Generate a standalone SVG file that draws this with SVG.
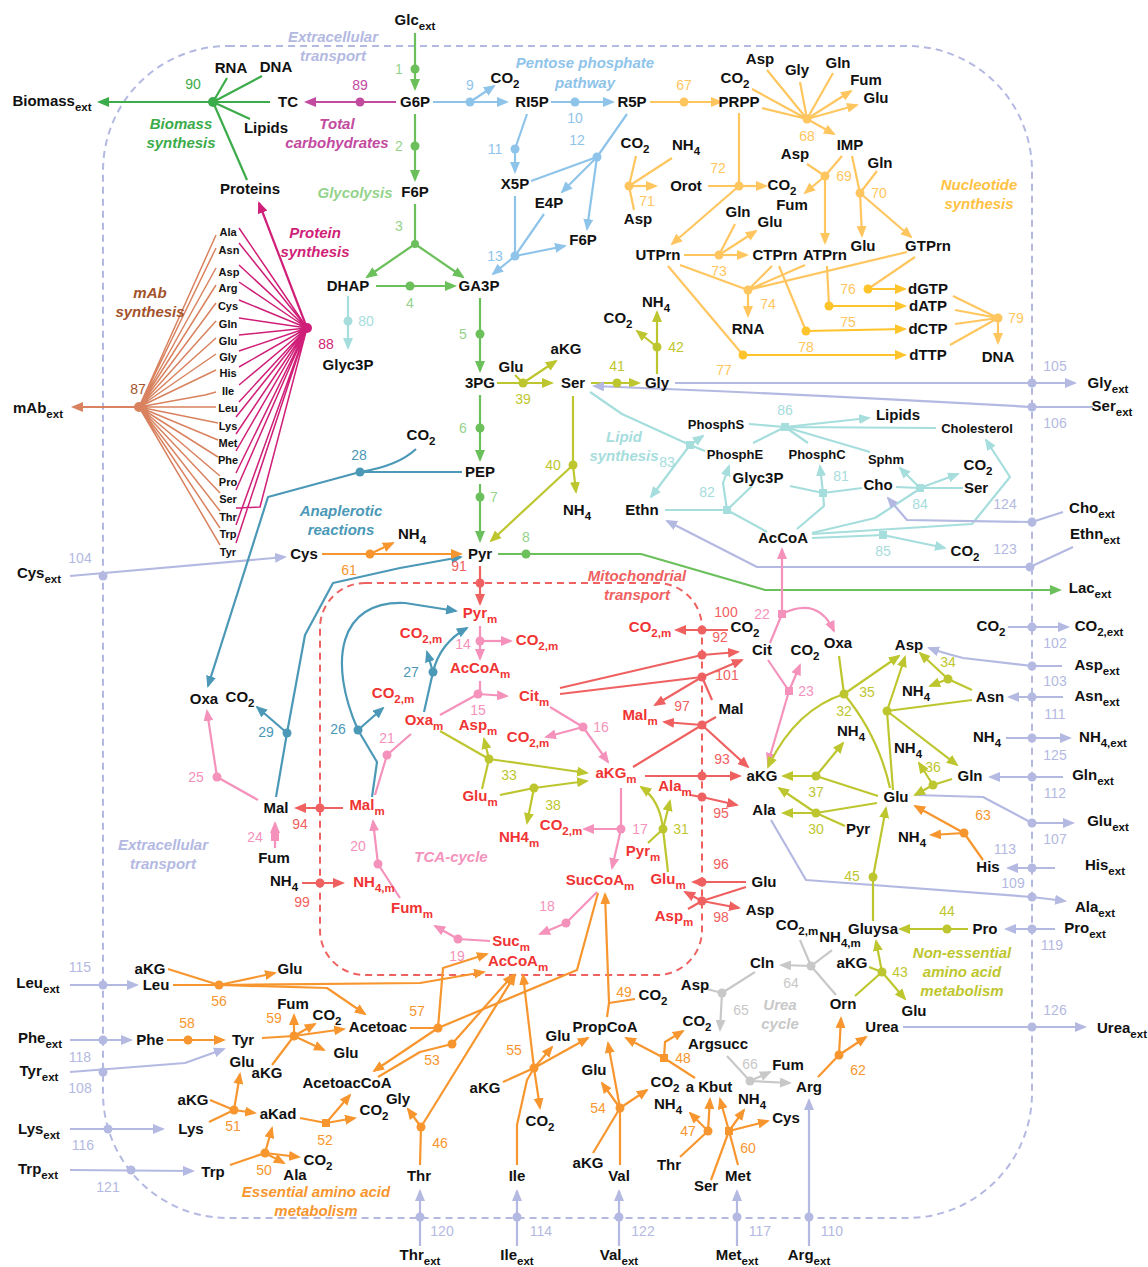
<svg xmlns="http://www.w3.org/2000/svg" width="1148" height="1267" viewBox="0 0 1148 1267">
<style>
text{font-family:"Liberation Sans",Arial,sans-serif;text-anchor:middle}
.t{font-size:15px;font-weight:bold;fill:#111}
.r{font-size:15px;font-weight:bold;fill:#f03434}
.aa{font-size:11px;font-weight:bold;fill:#111}
.sm{font-size:13px;font-weight:bold;fill:#111}
.s{font-size:11.5px}
.n{font-size:14px}
.lb{font-size:15px;font-weight:bold;font-style:italic}
path{fill:none;stroke-width:2.2;stroke-linejoin:round}
.thin{stroke-width:1.5}
.gl{stroke:#6cc05c}.bm{stroke:#3cab4a}.tc{stroke:#c24a9f}.ps{stroke:#cf1f78}.ma{stroke:#d9825f}.pp{stroke:#8fc4ea}.nu{stroke:#ffc660}.nd{stroke:#ffc42b}.li{stroke:#a6dddd}.an{stroke:#4b98b7}.mt{stroke:#ef6161}.tca{stroke:#f492bb}.ne{stroke:#bec62f}.ea{stroke:#f7962f}.ur{stroke:#c8c8c8}.tr{stroke:#b4b9e2}
.fgl{fill:#6cc05c}.fbm{fill:#3cab4a}.ftc{fill:#c24a9f}.fps{fill:#cf1f78}.fma{fill:#d9825f}.fpp{fill:#8fc4ea}.fnu{fill:#ffc660}.fnd{fill:#ffc42b}.fli{fill:#a6dddd}.fan{fill:#4b98b7}.fmt{fill:#ef6161}.ftca{fill:#f492bb}.fne{fill:#bec62f}.fea{fill:#f7962f}.fur{fill:#c8c8c8}.ftr{fill:#b4b9e2}
.cgl{fill:#94d38b}.cma{fill:#a3522b}
</style>
<defs>
<marker id="aGL" viewBox="0 0 12 10" refX="10" refY="5" markerWidth="12" markerHeight="10" markerUnits="userSpaceOnUse" orient="auto"><polygon points="0,0 12,5 0,10" fill="#6cc05c"/></marker>
<marker id="aBM" viewBox="0 0 12 10" refX="10" refY="5" markerWidth="12" markerHeight="10" markerUnits="userSpaceOnUse" orient="auto"><polygon points="0,0 12,5 0,10" fill="#3cab4a"/></marker>
<marker id="aTC" viewBox="0 0 12 10" refX="10" refY="5" markerWidth="12" markerHeight="10" markerUnits="userSpaceOnUse" orient="auto"><polygon points="0,0 12,5 0,10" fill="#c24a9f"/></marker>
<marker id="aPS" viewBox="0 0 12 10" refX="10" refY="5" markerWidth="12" markerHeight="10" markerUnits="userSpaceOnUse" orient="auto"><polygon points="0,0 12,5 0,10" fill="#cf1f78"/></marker>
<marker id="aMA" viewBox="0 0 12 10" refX="10" refY="5" markerWidth="12" markerHeight="10" markerUnits="userSpaceOnUse" orient="auto"><polygon points="0,0 12,5 0,10" fill="#d9825f"/></marker>
<marker id="aPP" viewBox="0 0 12 10" refX="10" refY="5" markerWidth="12" markerHeight="10" markerUnits="userSpaceOnUse" orient="auto"><polygon points="0,0 12,5 0,10" fill="#8fc4ea"/></marker>
<marker id="aNU" viewBox="0 0 12 10" refX="10" refY="5" markerWidth="12" markerHeight="10" markerUnits="userSpaceOnUse" orient="auto"><polygon points="0,0 12,5 0,10" fill="#ffc660"/></marker>
<marker id="aND" viewBox="0 0 12 10" refX="10" refY="5" markerWidth="12" markerHeight="10" markerUnits="userSpaceOnUse" orient="auto"><polygon points="0,0 12,5 0,10" fill="#ffc42b"/></marker>
<marker id="aLI" viewBox="0 0 12 10" refX="10" refY="5" markerWidth="12" markerHeight="10" markerUnits="userSpaceOnUse" orient="auto"><polygon points="0,0 12,5 0,10" fill="#a6dddd"/></marker>
<marker id="aAN" viewBox="0 0 12 10" refX="10" refY="5" markerWidth="12" markerHeight="10" markerUnits="userSpaceOnUse" orient="auto"><polygon points="0,0 12,5 0,10" fill="#4b98b7"/></marker>
<marker id="aMT" viewBox="0 0 12 10" refX="10" refY="5" markerWidth="12" markerHeight="10" markerUnits="userSpaceOnUse" orient="auto"><polygon points="0,0 12,5 0,10" fill="#ef6161"/></marker>
<marker id="aTCA" viewBox="0 0 12 10" refX="10" refY="5" markerWidth="12" markerHeight="10" markerUnits="userSpaceOnUse" orient="auto"><polygon points="0,0 12,5 0,10" fill="#f492bb"/></marker>
<marker id="aNE" viewBox="0 0 12 10" refX="10" refY="5" markerWidth="12" markerHeight="10" markerUnits="userSpaceOnUse" orient="auto"><polygon points="0,0 12,5 0,10" fill="#bec62f"/></marker>
<marker id="aEA" viewBox="0 0 12 10" refX="10" refY="5" markerWidth="12" markerHeight="10" markerUnits="userSpaceOnUse" orient="auto"><polygon points="0,0 12,5 0,10" fill="#f7962f"/></marker>
<marker id="aUR" viewBox="0 0 12 10" refX="10" refY="5" markerWidth="12" markerHeight="10" markerUnits="userSpaceOnUse" orient="auto"><polygon points="0,0 12,5 0,10" fill="#c8c8c8"/></marker>
<marker id="aTR" viewBox="0 0 12 10" refX="10" refY="5" markerWidth="12" markerHeight="10" markerUnits="userSpaceOnUse" orient="auto"><polygon points="0,0 12,5 0,10" fill="#b4b9e2"/></marker>
</defs>
<rect width="1148" height="1267" fill="#fff"/>
<g id="compartments">
<rect x="103" y="46" width="929" height="1172" rx="125" fill="none" stroke="#b4b9e2" stroke-width="2" stroke-dasharray="7,5"/>
<rect x="320" y="583" width="382" height="392" rx="45" fill="none" stroke="#ef6161" stroke-width="2" stroke-dasharray="7,5"/>
</g>
<g id="connectors">
<path class="gl" d="M415,33V89" marker-end="url(#aGL)"/>
<path class="gl" d="M415,114V180" marker-end="url(#aGL)"/>
<path class="gl" d="M415,204V244"/>
<path class="gl" d="M415,244L367,277" marker-end="url(#aGL)"/>
<path class="gl" d="M415,244L463,277" marker-end="url(#aGL)"/>
<path class="gl" d="M376,286H455" marker-end="url(#aGL)"/>
<path class="gl" d="M480,298V371" marker-end="url(#aGL)"/>
<path class="gl" d="M480,395V460" marker-end="url(#aGL)"/>
<path class="gl" d="M480,484V541" marker-end="url(#aGL)"/>
<path class="gl" d="M498,554H641L765,590H1060" marker-end="url(#aGL)"/>
<path class="bm" d="M270,102H99" marker-end="url(#aBM)"/>
<path class="bm" d="M213,102L227,78M213,102L262,76M213,102L250,119M213,102L247,180"/>
<path class="tc" d="M396,102H306" marker-end="url(#aTC)"/>
<path class="ps" d="M307,328L259,203" marker-end="url(#aPS)"/>
<path class="ps thin" d="M307,328L239,228M307,328L239,243M307,328L239,265M307,328L239,282M307,328L239,300M307,328L239,318M307,328L239,335M307,328L239,351M307,328L239,367M307,328L239,385M307,328L239,402M307,328L236,417M307,328L236,434M307,328L236,451M307,328L236,473M307,328L236,490M307,328L260,507L236,508M307,328L236,525M307,328L236,543"/>
<path class="ma" d="M139,407H73" marker-end="url(#aMA)"/>
<path class="ma thin" d="M139,407L216,235M139,407L216,248M139,407L216,268M139,407L216,285M139,407L216,303M139,407L216,321M139,407L216,338M139,407L216,354M139,407L216,370M139,407L205,395L216,392M139,407L216,407M139,407L218,423M139,407L218,440M139,407L218,457M139,407L220,476M139,407L220,493M139,407L220,511M139,407L220,528M139,407L220,545"/>
<path class="pp" d="M433,102H507" marker-end="url(#aPP)"/>
<path class="pp" d="M470,102L494,86" marker-end="url(#aPP)"/>
<path class="pp" d="M551,102H613" marker-end="url(#aPP)"/>
<path class="pp" d="M527,114L515,149V172" marker-end="url(#aPP)"/>
<path class="pp" d="M627,114L597,157L531,181"/>
<path class="pp" d="M597,157L562,192" marker-end="url(#aPP)"/>
<path class="pp" d="M597,157L587,229" marker-end="url(#aPP)"/>
<path class="pp" d="M515,196V256M544,214L515,256"/>
<path class="pp" d="M515,256L565,246" marker-end="url(#aPP)"/>
<path class="pp" d="M515,256L493,274" marker-end="url(#aPP)"/>
<path class="nu" d="M650,102H721" marker-end="url(#aNU)"/>
<path class="nu" d="M767,70L807,119M752,89L807,119M800,82L807,119M833,73L807,119M762,108L807,119"/>
<path class="nu" d="M807,119L851,91" marker-end="url(#aNU)"/>
<path class="nu" d="M807,119L857,105" marker-end="url(#aNU)"/>
<path class="nu" d="M807,119L834,134" marker-end="url(#aNU)"/>
<path class="nu" d="M842,156L825,176M807,164L825,176"/>
<path class="nu" d="M825,176L805,193" marker-end="url(#aNU)"/>
<path class="nu" d="M825,176V243" marker-end="url(#aNU)"/>
<path class="nu" d="M852,156L860,193M877,171L860,193"/>
<path class="nu" d="M860,193L862,236" marker-end="url(#aNU)"/>
<path class="nu" d="M860,193L911,237" marker-end="url(#aNU)"/>
<path class="nu" d="M636,156L629,186M672,158L629,186M634,210L629,186"/>
<path class="nu" d="M629,186H656" marker-end="url(#aNU)"/>
<path class="nu" d="M708,186H739M739,113V186"/>
<path class="nu" d="M739,186H766" marker-end="url(#aNU)"/>
<path class="nu" d="M739,186L672,244" marker-end="url(#aNU)"/>
<path class="nu" d="M684,255H719M735,224L719,255"/>
<path class="nu" d="M719,255L756,231" marker-end="url(#aNU)"/>
<path class="nu" d="M719,255H747" marker-end="url(#aNU)"/>
<path class="nu" d="M680,265L748,290M772,266L748,290M805,265L748,290M907,252L748,290"/>
<path class="nu" d="M748,290V316" marker-end="url(#aNU)"/>
<path class="nu" d="M668,266L743,355"/>
<path class="nd" d="M743,355H905" marker-end="url(#aND)"/>
<path class="nu" d="M779,266L806,331"/>
<path class="nd" d="M806,331L905,329" marker-end="url(#aND)"/>
<path class="nu" d="M827,266L829,306"/>
<path class="nd" d="M829,306H905" marker-end="url(#aND)"/>
<path class="nu" d="M915,257L868,289"/>
<path class="nd" d="M868,289H905" marker-end="url(#aND)"/>
<path class="nu" d="M953,296L998,318M955,310L998,318M955,324L998,318M950,345L998,318"/>
<path class="nu" d="M998,318V343" marker-end="url(#aNU)"/>
<path class="ne" d="M497,383H552" marker-end="url(#aNE)"/>
<path class="ne" d="M515,375L523,383"/>
<path class="ne" d="M523,383L556,361" marker-end="url(#aNE)"/>
<path class="ne" d="M591,383H639" marker-end="url(#aNE)"/>
<path class="ne" d="M657,374V347"/>
<path class="ne" d="M657,347V312" marker-end="url(#aNE)"/>
<path class="ne" d="M657,347L637,331" marker-end="url(#aNE)"/>
<path class="ne" d="M573,396V465"/>
<path class="ne" d="M573,465L576,492" marker-end="url(#aNE)"/>
<path class="ne" d="M573,465L491,541" marker-end="url(#aNE)"/>
<path class="li" d="M590,392L622,414L690,445M705,451L690,445"/>
<path class="li" d="M690,445L703,436" marker-end="url(#aLI)"/>
<path class="li" d="M690,445L651,497" marker-end="url(#aLI)"/>
<path class="li" d="M665,510H727M752,486L727,510M767,532L727,510"/>
<path class="li" d="M727,510L723,483L729,466" marker-end="url(#aLI)"/>
<path class="li" d="M790,486L823,493M862,488L823,493M797,529L824,506L823,493"/>
<path class="li" d="M823,493L820,466" marker-end="url(#aLI)"/>
<path class="li" d="M896,487L920,488M812,533L875,518L918,490M920,488H963"/>
<path class="li" d="M920,488L900,468" marker-end="url(#aLI)"/>
<path class="li" d="M920,488L958,474" marker-end="url(#aLI)"/>
<path class="li" d="M812,538L883,535"/>
<path class="li" d="M883,535L945,548" marker-end="url(#aLI)"/>
<path class="li" d="M812,534L972,524L1010,477L986,440" marker-end="url(#aLI)"/>
<path class="li" d="M749,424L785,427M753,443L785,427M808,443L785,427M870,452L785,427M936,428L785,427"/>
<path class="li" d="M785,427L869,418" marker-end="url(#aLI)"/>
<path class="tr" d="M675,383H1075" marker-end="url(#aTR)"/>
<path class="tr" d="M1093,407H1032Q800,394 594,386" marker-end="url(#aTR)"/>
<path class="tr" d="M1063,512L1032,522L907,520L888,498" marker-end="url(#aTR)"/>
<path class="tr" d="M1073,547L1030,567H757L667,521" marker-end="url(#aTR)"/>
<path class="tr" d="M1008,627H1068" marker-end="url(#aTR)"/>
<path class="tr" d="M1062,666H1032L963,658Q940,652 929,648" marker-end="url(#aTR)"/>
<path class="tr" d="M1063,697H1009" marker-end="url(#aTR)"/>
<path class="tr" d="M1006,738H1070" marker-end="url(#aTR)"/>
<path class="tr" d="M1063,777H990" marker-end="url(#aTR)"/>
<path class="tr" d="M915,795L983,797L1032,823H1073" marker-end="url(#aTR)"/>
<path class="tr" d="M1055,868H1008" marker-end="url(#aTR)"/>
<path class="tr" d="M771,820L806,880L1032,897L1065,901" marker-end="url(#aTR)"/>
<path class="tr" d="M1055,929H1006" marker-end="url(#aTR)"/>
<path class="tr" d="M903,1027H1085" marker-end="url(#aTR)"/>
<path class="tr" d="M70,576L285,557" marker-end="url(#aTR)"/>
<path class="tr" d="M70,985H137" marker-end="url(#aTR)"/>
<path class="tr" d="M70,1040H131" marker-end="url(#aTR)"/>
<path class="tr" d="M70,1072L185,1063L224,1049" marker-end="url(#aTR)"/>
<path class="tr" d="M70,1129H163" marker-end="url(#aTR)"/>
<path class="tr" d="M70,1170L193,1171" marker-end="url(#aTR)"/>
<path class="tr" d="M420,1246V1191" marker-end="url(#aTR)"/>
<path class="tr" d="M517,1246V1191" marker-end="url(#aTR)"/>
<path class="tr" d="M619,1246V1191" marker-end="url(#aTR)"/>
<path class="tr" d="M737,1246V1191" marker-end="url(#aTR)"/>
<path class="tr" d="M809,1246V1100" marker-end="url(#aTR)"/>
<path class="an" d="M462,472H360L268,497L208,686" marker-end="url(#aAN)"/>
<path class="an" d="M360,472Q398,466 416,449"/>
<path class="an" d="M276,797L287,733L305,635L333,583L400,568L461,557" marker-end="url(#aAN)"/>
<path class="an" d="M287,733L257,707" marker-end="url(#aAN)"/>
<path class="an" d="M372,797L377,762L358,730C328,662 338,600 405,603L456,611" marker-end="url(#aAN)"/>
<path class="an" d="M358,730L383,708" marker-end="url(#aAN)"/>
<path class="an" d="M424,712L433,672Q440,643 467,628" marker-end="url(#aAN)"/>
<path class="an" d="M433,672L427,652" marker-end="url(#aAN)"/>
<path class="mt" d="M480,566V604" marker-end="url(#aMT)"/>
<path class="mt" d="M728,630H676" marker-end="url(#aMT)"/>
<path class="mt" d="M560,688L702,655L738,652" marker-end="url(#aMT)"/>
<path class="mt" d="M560,694L702,677L742,660" marker-end="url(#aMT)"/>
<path class="mt" d="M712,700L702,677"/>
<path class="mt" d="M702,677L655,705" marker-end="url(#aMT)"/>
<path class="mt" d="M633,767L702,725M716,717L702,725"/>
<path class="mt" d="M702,725L664,722" marker-end="url(#aMT)"/>
<path class="mt" d="M702,725L748,767" marker-end="url(#aMT)"/>
<path class="mt" d="M645,776H740" marker-end="url(#aMT)"/>
<path class="mt" d="M690,795L702,797L737,805" marker-end="url(#aMT)"/>
<path class="mt" d="M343,808H296" marker-end="url(#aMT)"/>
<path class="mt" d="M302,883H343" marker-end="url(#aMT)"/>
<path class="mt" d="M746,882H693" marker-end="url(#aMT)"/>
<path class="mt" d="M746,887L702,901L685,892" marker-end="url(#aMT)"/>
<path class="mt" d="M688,909L702,901"/>
<path class="mt" d="M702,901L739,908" marker-end="url(#aMT)"/>
<path class="tca" d="M480,626V659" marker-end="url(#aTCA)"/>
<path class="tca" d="M480,641H511" marker-end="url(#aTCA)"/>
<path class="tca" d="M480,681V694M440,715L478,694"/>
<path class="tca" d="M478,694L507,696" marker-end="url(#aTCA)"/>
<path class="tca" d="M550,707L583,727"/>
<path class="tca" d="M583,727L546,737" marker-end="url(#aTCA)"/>
<path class="tca" d="M583,727L608,762" marker-end="url(#aTCA)"/>
<path class="tca" d="M621,788V829"/>
<path class="tca" d="M621,829H584" marker-end="url(#aTCA)"/>
<path class="tca" d="M621,829L612,868" marker-end="url(#aTCA)"/>
<path class="tca" d="M597,892L566,923L540,934" marker-end="url(#aTCA)"/>
<path class="tca" d="M490,941L458,939L435,926" marker-end="url(#aTCA)"/>
<path class="tca" d="M400,898L378,864L373,821" marker-end="url(#aTCA)"/>
<path class="tca" d="M375,795L387,755L411,734"/>
<path class="tca" d="M770,643L782,614"/>
<path class="tca" d="M782,614V549" marker-end="url(#aTCA)"/>
<path class="tca" d="M782,614Q818,596 834,631" marker-end="url(#aTCA)"/>
<path class="tca" d="M768,660L789,691"/>
<path class="tca" d="M789,691L800,665" marker-end="url(#aTCA)"/>
<path class="tca" d="M789,691L768,763" marker-end="url(#aTCA)"/>
<path class="tca" d="M275,848V823" marker-end="url(#aTCA)"/>
<path class="tca" d="M258,800L217,777L207,711" marker-end="url(#aTCA)"/>
<path class="ne" d="M440,731L489,759M482,789L489,759"/>
<path class="ne" d="M489,759L484,739" marker-end="url(#aNE)"/>
<path class="ne" d="M489,759L587,773" marker-end="url(#aNE)"/>
<path class="ne" d="M500,795L534,788"/>
<path class="ne" d="M534,788L587,781" marker-end="url(#aNE)"/>
<path class="ne" d="M534,788L527,823" marker-end="url(#aNE)"/>
<path class="ne" d="M648,843L663,829M668,872L663,829"/>
<path class="ne" d="M663,829L670,801" marker-end="url(#aNE)"/>
<path class="ne" d="M663,829Q660,800 641,787" marker-end="url(#aNE)"/>
<path class="ne" d="M839,656L844,694M844,694Q878,735 890,788"/>
<path class="ne" d="M844,694Q795,710 768,767" marker-end="url(#aNE)"/>
<path class="ne" d="M844,694L899,656" marker-end="url(#aNE)"/>
<path class="ne" d="M972,700L887,711L893,790"/>
<path class="ne" d="M887,711L905,657" marker-end="url(#aNE)"/>
<path class="ne" d="M887,711L957,765" marker-end="url(#aNE)"/>
<path class="ne" d="M972,690L948,679"/>
<path class="ne" d="M948,679L920,653" marker-end="url(#aNE)"/>
<path class="ne" d="M948,679L930,686" marker-end="url(#aNE)"/>
<path class="ne" d="M952,779L933,785"/>
<path class="ne" d="M933,785L915,795" marker-end="url(#aNE)"/>
<path class="ne" d="M933,785L919,763" marker-end="url(#aNE)"/>
<path class="ne" d="M878,796L816,776"/>
<path class="ne" d="M816,776H783" marker-end="url(#aNE)"/>
<path class="ne" d="M816,776L843,743" marker-end="url(#aNE)"/>
<path class="ne" d="M877,803L816,813M845,826L816,813"/>
<path class="ne" d="M816,813H783" marker-end="url(#aNE)"/>
<path class="ne" d="M816,813L779,788" marker-end="url(#aNE)"/>
<path class="ne" d="M873,921V877L886,808" marker-end="url(#aNE)"/>
<path class="ne" d="M968,929H900" marker-end="url(#aNE)"/>
<path class="ne" d="M869,967L882,972M855,996L882,972"/>
<path class="ne" d="M882,972L876,941" marker-end="url(#aNE)"/>
<path class="ne" d="M882,972L905,999" marker-end="url(#aNE)"/>
<path class="ea" d="M983,860L964,833"/>
<path class="ea" d="M964,833L915,806" marker-end="url(#aEA)"/>
<path class="ea" d="M964,833L931,835" marker-end="url(#aEA)"/>
<path class="ea" d="M322,554H461" marker-end="url(#aEA)"/>
<path class="ea" d="M370,554L393,543" marker-end="url(#aEA)"/>
<path class="ea" d="M168,969L219,985M173,985H219"/>
<path class="ea" d="M219,985L275,973" marker-end="url(#aEA)"/>
<path class="ea" d="M219,985L327,988L365,1014" marker-end="url(#aEA)"/>
<path class="ea" d="M219,985L420,983L484,972" marker-end="url(#aEA)"/>
<path class="ea" d="M410,1028H438L577,970L598,893"/>
<path class="ea" d="M438,1028L443,968L487,954" marker-end="url(#aEA)"/>
<path class="ea" d="M438,1028L374,1071" marker-end="url(#aEA)"/>
<path class="ea" d="M378,1077L420,1052L452,1044"/>
<path class="ea" d="M452,1044L513,975" marker-end="url(#aEA)"/>
<path class="ea" d="M420,1165L421,1127"/>
<path class="ea" d="M421,1127L408,1109" marker-end="url(#aEA)"/>
<path class="ea" d="M421,1127L515,975" marker-end="url(#aEA)"/>
<path class="ea" d="M517,1165V1125L527,1080L534,1068M503,1082L534,1068"/>
<path class="ea" d="M534,1068L552,1047" marker-end="url(#aEA)"/>
<path class="ea" d="M534,1068L588,1038" marker-end="url(#aEA)"/>
<path class="ea" d="M534,1068L540,1108" marker-end="url(#aEA)"/>
<path class="ea" d="M534,1068L523,975" marker-end="url(#aEA)"/>
<path class="ea" d="M607,1017L609,1003L605,894" marker-end="url(#aEA)"/>
<path class="ea" d="M609,1003L635,999"/>
<path class="ea" d="M620,1165V1108M593,1153L620,1108"/>
<path class="ea" d="M620,1108L602,1083" marker-end="url(#aEA)"/>
<path class="ea" d="M620,1108L608,1043" marker-end="url(#aEA)"/>
<path class="ea" d="M620,1108L647,1090" marker-end="url(#aEA)"/>
<path class="ea" d="M695,1078L664,1058"/>
<path class="ea" d="M664,1058L626,1038" marker-end="url(#aEA)"/>
<path class="ea" d="M664,1058L665,1042L683,1031" marker-end="url(#aEA)"/>
<path class="ea" d="M680,1157L708,1131"/>
<path class="ea" d="M708,1131L710,1099" marker-end="url(#aEA)"/>
<path class="ea" d="M708,1131L690,1113" marker-end="url(#aEA)"/>
<path class="ea" d="M738,1165L729,1131M711,1180L729,1131"/>
<path class="ea" d="M729,1131L720,1099" marker-end="url(#aEA)"/>
<path class="ea" d="M729,1131L744,1110" marker-end="url(#aEA)"/>
<path class="ea" d="M729,1131L768,1121" marker-end="url(#aEA)"/>
<path class="ea" d="M818,1077L839,1055"/>
<path class="ea" d="M839,1055L841,1018" marker-end="url(#aEA)"/>
<path class="ea" d="M839,1055L866,1037" marker-end="url(#aEA)"/>
<path class="ea" d="M167,1040H224" marker-end="url(#aEA)"/>
<path class="ea" d="M262,1038L294,1036M272,1065L294,1036"/>
<path class="ea" d="M294,1036V1015" marker-end="url(#aEA)"/>
<path class="ea" d="M294,1036L315,1024" marker-end="url(#aEA)"/>
<path class="ea" d="M294,1036L344,1029" marker-end="url(#aEA)"/>
<path class="ea" d="M294,1036L324,1050" marker-end="url(#aEA)"/>
<path class="ea" d="M210,1100L234,1110M209,1122L234,1110"/>
<path class="ea" d="M234,1110L255,1113" marker-end="url(#aEA)"/>
<path class="ea" d="M234,1110L240,1074" marker-end="url(#aEA)"/>
<path class="ea" d="M300,1118L326,1123"/>
<path class="ea" d="M326,1123L350,1095" marker-end="url(#aEA)"/>
<path class="ea" d="M326,1123L355,1118" marker-end="url(#aEA)"/>
<path class="ea" d="M230,1165L265,1153"/>
<path class="ea" d="M265,1153L272,1128" marker-end="url(#aEA)"/>
<path class="ea" d="M265,1153L299,1157" marker-end="url(#aEA)"/>
<path class="ea" d="M265,1153L284,1163" marker-end="url(#aEA)"/>
<path class="ur" d="M800,940L811,966M832,950L811,966M836,995L811,966"/>
<path class="ur" d="M811,966L781,965" marker-end="url(#aUR)"/>
<path class="ur" d="M755,972L722,993M703,988L722,993"/>
<path class="ur" d="M722,993L720,1030" marker-end="url(#aUR)"/>
<path class="ur" d="M727,1056L750,1081"/>
<path class="ur" d="M750,1081L770,1072" marker-end="url(#aUR)"/>
<path class="ur" d="M750,1081L790,1083" marker-end="url(#aUR)"/>
</g>
<g id="reactions">
<g id="r1"><circle class="fgl" cx="415" cy="69" r="4.5"/><text class="n cgl" x="399" y="74">1</text></g>
<g id="r2"><circle class="fgl" cx="415" cy="146" r="4.5"/><text class="n cgl" x="399" y="151">2</text></g>
<g id="r3"><circle class="fgl" cx="415" cy="244" r="4"/><text class="n cgl" x="399" y="231">3</text></g>
<g id="r4"><circle class="fgl" cx="410" cy="286" r="4.5"/><text class="n cgl" x="410" y="308">4</text></g>
<g id="r5"><circle class="fgl" cx="480" cy="334" r="4.5"/><text class="n cgl" x="463" y="339">5</text></g>
<g id="r6"><circle class="fgl" cx="480" cy="428" r="4.5"/><text class="n cgl" x="463" y="433">6</text></g>
<g id="r7"><circle class="fgl" cx="480" cy="497" r="4.5"/><text class="n cgl" x="494" y="502">7</text></g>
<g id="r8"><circle class="fgl" cx="526" cy="554" r="4.5"/><text class="n cgl" x="526" y="542">8</text></g>
<g id="r9"><circle class="fpp" cx="470" cy="102" r="4.5"/><text class="n fpp" x="470" y="90">9</text></g>
<g id="r10"><circle class="fpp" cx="575" cy="102" r="4.5"/><text class="n fpp" x="575" y="123">10</text></g>
<g id="r11"><circle class="fpp" cx="515" cy="149" r="4.5"/><text class="n fpp" x="495" y="154">11</text></g>
<g id="r12"><circle class="fpp" cx="597" cy="157" r="4.5"/><text class="n fpp" x="577" y="145">12</text></g>
<g id="r13"><circle class="fpp" cx="515" cy="256" r="4.5"/><text class="n fpp" x="495" y="261">13</text></g>
<g id="r67"><circle class="fnu" cx="684" cy="102" r="4.5"/><text class="n fnu" x="684" y="90">67</text></g>
<g id="r68"><circle class="fnu" cx="807" cy="119" r="4.5"/><text class="n fnu" x="807" y="141">68</text></g>
<g id="r69"><circle class="fnu" cx="825" cy="176" r="4.5"/><text class="n fnu" x="844" y="181">69</text></g>
<g id="r70"><circle class="fnu" cx="860" cy="193" r="4.5"/><text class="n fnu" x="879" y="198">70</text></g>
<g id="r71"><circle class="fnu" cx="629" cy="186" r="4.5"/><text class="n fnu" x="647" y="206">71</text></g>
<g id="r72"><circle class="fnu" cx="739" cy="186" r="4.5"/><text class="n fnu" x="718" y="173">72</text></g>
<g id="r73"><circle class="fnu" cx="719" cy="255" r="4.5"/><text class="n fnu" x="719" y="276">73</text></g>
<g id="r74"><circle class="fnu" cx="748" cy="290" r="4.5"/><text class="n fnu" x="768" y="309">74</text></g>
<g id="r75"><circle class="fnd" cx="829" cy="306" r="4.5"/><text class="n fnu" x="848" y="327">75</text></g>
<g id="r76"><circle class="fnd" cx="868" cy="289" r="4.5"/><text class="n fnu" x="848" y="294">76</text></g>
<g id="r77"><circle class="fnd" cx="743" cy="355" r="4.5"/><text class="n fnu" x="724" y="375">77</text></g>
<g id="r78"><circle class="fnd" cx="806" cy="331" r="4.5"/><text class="n fnu" x="806" y="352">78</text></g>
<g id="r79"><circle class="fnu" cx="998" cy="318" r="4.5"/><text class="n fnu" x="1016" y="323">79</text></g>
<g id="r89"><circle class="ftc" cx="360" cy="102" r="4.5"/><text class="n ftc" x="360" y="90">89</text></g>
<g id="r90"><circle class="fbm" cx="213" cy="102" r="5"/><text class="n fbm" x="193" y="89">90</text></g>
<g id="r88"><circle class="fps" cx="307" cy="328" r="5"/><text class="n fps" x="326" y="349">88</text></g>
<g id="r87"><circle class="fma" cx="139" cy="407" r="5"/><text class="n cma" x="138" y="394">87</text></g>
<g id="r80"><path class="li" d="M348,296V348" marker-end="url(#aLI)"/><circle class="fli" cx="348" cy="321" r="4.5"/><text class="n fli" x="366" y="326">80</text></g>
<g id="r39"><circle class="fne" cx="523" cy="383" r="4.5"/><text class="n fne" x="523" y="404">39</text></g>
<g id="r41"><circle class="fne" cx="617" cy="383" r="4.5"/><text class="n fne" x="617" y="371">41</text></g>
<g id="r42"><circle class="fne" cx="657" cy="347" r="4.5"/><text class="n fne" x="676" y="352">42</text></g>
<g id="r40"><circle class="fne" cx="573" cy="465" r="4.5"/><text class="n fne" x="553" y="470">40</text></g>
<g id="r83"><rect class="fli" x="686" y="441" width="8" height="8"/><text class="n fli" x="667" y="467">83</text></g>
<g id="r86"><rect class="fli" x="781" y="423" width="8" height="8"/><text class="n fli" x="785" y="415">86</text></g>
<g id="r82"><rect class="fli" x="723" y="506" width="8" height="8"/><text class="n fli" x="707" y="497">82</text></g>
<g id="r81"><rect class="fli" x="819" y="489" width="8" height="8"/><text class="n fli" x="841" y="481">81</text></g>
<g id="r84"><rect class="fli" x="916" y="484" width="8" height="8"/><text class="n fli" x="920" y="509">84</text></g>
<g id="r85"><rect class="fli" x="879" y="531" width="8" height="8"/><text class="n fli" x="883" y="556">85</text></g>
<g id="t105"><circle class="ftr" cx="1032" cy="383" r="4.5"/><text class="n ftr" x="1055" y="371">105</text></g>
<g id="t106"><circle class="ftr" cx="1032" cy="407" r="4.5"/><text class="n ftr" x="1055" y="428">106</text></g>
<g id="t124"><circle class="ftr" cx="1032" cy="522" r="4.5"/><text class="n ftr" x="1005" y="509">124</text></g>
<g id="t123"><circle class="ftr" cx="1030" cy="567" r="4.5"/><text class="n ftr" x="1005" y="554">123</text></g>
<g id="t102"><circle class="ftr" cx="1032" cy="627" r="4.5"/><text class="n ftr" x="1055" y="648">102</text></g>
<g id="t103"><circle class="ftr" cx="1032" cy="666" r="4.5"/><text class="n ftr" x="1055" y="686">103</text></g>
<g id="t111"><circle class="ftr" cx="1032" cy="697" r="4.5"/><text class="n ftr" x="1055" y="719">111</text></g>
<g id="t125"><circle class="ftr" cx="1032" cy="738" r="4.5"/><text class="n ftr" x="1055" y="760">125</text></g>
<g id="t112"><circle class="ftr" cx="1032" cy="777" r="4.5"/><text class="n ftr" x="1055" y="798">112</text></g>
<g id="t107"><circle class="ftr" cx="1032" cy="823" r="4.5"/><text class="n ftr" x="1055" y="844">107</text></g>
<g id="t113"><circle class="ftr" cx="1032" cy="868" r="4.5"/><text class="n ftr" x="1005" y="854">113</text><text class="n ftr" x="1013" y="888">109</text></g>
<g id="t108ala"><circle class="ftr" cx="1032" cy="897" r="4.5"/></g>
<g id="t119"><circle class="ftr" cx="1032" cy="929" r="4.5"/><text class="n ftr" x="1052" y="950">119</text></g>
<g id="t126"><circle class="ftr" cx="1032" cy="1027" r="4.5"/><text class="n ftr" x="1055" y="1015">126</text></g>
<g id="t104"><circle class="ftr" cx="103" cy="576" r="4.5"/><text class="n ftr" x="80" y="563">104</text></g>
<g id="t115"><circle class="ftr" cx="103" cy="985" r="4.5"/><text class="n ftr" x="80" y="972">115</text></g>
<g id="t118"><circle class="ftr" cx="103" cy="1040" r="4.5"/><text class="n ftr" x="80" y="1062">118</text></g>
<g id="t108"><circle class="ftr" cx="103" cy="1072" r="4.5"/><text class="n ftr" x="80" y="1093">108</text></g>
<g id="t116"><circle class="ftr" cx="108" cy="1129" r="4.5"/><text class="n ftr" x="83" y="1150">116</text></g>
<g id="t121"><circle class="ftr" cx="131" cy="1170" r="4.5"/><text class="n ftr" x="108" y="1192">121</text></g>
<g id="t120"><circle class="ftr" cx="420" cy="1217" r="4.5"/><text class="n ftr" x="442" y="1236">120</text></g>
<g id="t114"><circle class="ftr" cx="517" cy="1217" r="4.5"/><text class="n ftr" x="541" y="1236">114</text></g>
<g id="t122"><circle class="ftr" cx="619" cy="1217" r="4.5"/><text class="n ftr" x="643" y="1236">122</text></g>
<g id="t117"><circle class="ftr" cx="737" cy="1217" r="4.5"/><text class="n ftr" x="760" y="1236">117</text></g>
<g id="t110"><circle class="ftr" cx="809" cy="1217" r="4.5"/><text class="n ftr" x="832" y="1236">110</text></g>
<g id="r28"><circle class="fan" cx="360" cy="472" r="4.5"/><text class="n fan" x="359" y="460">28</text></g>
<g id="r29"><circle class="fan" cx="287" cy="733" r="4.5"/><text class="n fan" x="266" y="737">29</text></g>
<g id="r26"><circle class="fan" cx="358" cy="730" r="4.5"/><text class="n fan" x="338" y="734">26</text></g>
<g id="r27"><circle class="fan" cx="433" cy="672" r="4.5"/><text class="n fan" x="411" y="677">27</text></g>
<g id="r91"><circle class="fmt" cx="480" cy="583" r="4.5"/><text class="n fmt" x="459" y="571">91</text></g>
<g id="r100"><circle class="fmt" cx="702" cy="630" r="4.5"/><text class="n fmt" x="726" y="617">100</text></g>
<g id="r92"><circle class="fmt" cx="702" cy="655" r="4.5"/><text class="n fmt" x="720" y="642">92</text></g>
<g id="r101"><circle class="fmt" cx="702" cy="677" r="4.5"/><text class="n fmt" x="727" y="680">101</text><text class="n fmt" x="682" y="711">97</text></g>
<g id="r93"><circle class="fmt" cx="702" cy="725" r="4.5"/><text class="n fmt" x="722" y="764">93</text></g>
<g id="rakg"><circle class="fmt" cx="702" cy="776" r="4.5"/></g>
<g id="r95"><circle class="fmt" cx="702" cy="797" r="4.5"/><text class="n fmt" x="721" y="818">95</text></g>
<g id="r94"><circle class="fmt" cx="320" cy="808" r="4.5"/><text class="n fmt" x="300" y="829">94</text></g>
<g id="r99"><circle class="fmt" cx="320" cy="883" r="4.5"/><text class="n fmt" x="302" y="907">99</text></g>
<g id="r96"><circle class="fmt" cx="702" cy="882" r="4.5"/><text class="n fmt" x="721" y="869">96</text></g>
<g id="r98"><circle class="fmt" cx="702" cy="901" r="4.5"/><text class="n fmt" x="721" y="922">98</text></g>
<g id="r14"><circle class="ftca" cx="480" cy="641" r="4.5"/><text class="n ftca" x="463" y="649">14</text></g>
<g id="r15"><circle class="ftca" cx="478" cy="694" r="4.5"/><text class="n ftca" x="478" y="715">15</text></g>
<g id="r16"><circle class="ftca" cx="583" cy="727" r="4.5"/><text class="n ftca" x="601" y="732">16</text></g>
<g id="r17"><circle class="ftca" cx="621" cy="829" r="4.5"/><text class="n ftca" x="640" y="834">17</text></g>
<g id="r18"><circle class="ftca" cx="566" cy="923" r="4.5"/><text class="n ftca" x="547" y="911">18</text></g>
<g id="r19"><circle class="ftca" cx="458" cy="939" r="4.5"/><text class="n ftca" x="457" y="961">19</text></g>
<g id="r20"><circle class="ftca" cx="378" cy="864" r="4.5"/><text class="n ftca" x="358" y="851">20</text></g>
<g id="r21"><circle class="ftca" cx="387" cy="755" r="4.5"/><text class="n ftca" x="387" y="743">21</text></g>
<g id="r22"><rect class="ftca" x="778" y="610" width="8" height="8"/><text class="n ftca" x="762" y="619">22</text></g>
<g id="r23"><rect class="ftca" x="785" y="687" width="8" height="8"/><text class="n ftca" x="806" y="696">23</text></g>
<g id="r24"><rect class="ftca" x="271" y="833" width="8" height="8"/><text class="n ftca" x="255" y="842">24</text></g>
<g id="r25"><circle class="ftca" cx="217" cy="777" r="4.5"/><text class="n ftca" x="196" y="782">25</text></g>
<g id="r33"><circle class="fne" cx="489" cy="759" r="4.5"/><text class="n fne" x="509" y="780">33</text></g>
<g id="r38"><circle class="fne" cx="534" cy="788" r="4.5"/><text class="n fne" x="553" y="810">38</text></g>
<g id="r31"><circle class="fne" cx="663" cy="829" r="4.5"/><text class="n fne" x="681" y="834">31</text></g>
<g id="r32"><circle class="fne" cx="844" cy="694" r="4.5"/><text class="n fne" x="844" y="716">32</text><text class="n fne" x="867" y="697">35</text></g>
<g id="r35b"><circle class="fne" cx="887" cy="711" r="4.5"/></g>
<g id="r34"><circle class="fne" cx="948" cy="679" r="4.5"/><text class="n fne" x="948" y="667">34</text></g>
<g id="r36"><circle class="fne" cx="933" cy="785" r="4.5"/><text class="n fne" x="933" y="772">36</text></g>
<g id="r37"><circle class="fne" cx="816" cy="776" r="4.5"/><text class="n fne" x="816" y="797">37</text></g>
<g id="r30"><circle class="fne" cx="816" cy="813" r="4.5"/><text class="n fne" x="816" y="834">30</text></g>
<g id="r45"><circle class="fne" cx="873" cy="877" r="4.5"/><text class="n fne" x="852" y="881">45</text></g>
<g id="r44"><circle class="fne" cx="947" cy="929" r="4.5"/><text class="n fne" x="947" y="916">44</text></g>
<g id="r43"><circle class="fne" cx="882" cy="972" r="4.5"/><text class="n fne" x="900" y="977">43</text></g>
<g id="r63"><circle class="fea" cx="964" cy="833" r="4.5"/><text class="n fea" x="983" y="820">63</text></g>
<g id="r61"><circle class="fea" cx="370" cy="554" r="4.5"/><text class="n fea" x="349" y="575">61</text></g>
<g id="r56"><circle class="fea" cx="219" cy="985" r="4.5"/><text class="n fea" x="219" y="1006">56</text></g>
<g id="r57"><circle class="fea" cx="438" cy="1028" r="4.5"/><text class="n fea" x="417" y="1016">57</text></g>
<g id="r58"><circle class="fea" cx="188" cy="1040" r="4.5"/><text class="n fea" x="187" y="1028">58</text></g>
<g id="r59"><circle class="fea" cx="294" cy="1036" r="4.5"/><text class="n fea" x="274" y="1023">59</text></g>
<g id="r53"><circle class="fea" cx="452" cy="1044" r="4.5"/><text class="n fea" x="432" y="1065">53</text></g>
<g id="r55"><circle class="fea" cx="534" cy="1068" r="4.5"/><text class="n fea" x="514" y="1055">55</text></g>
<g id="r49"><text class="n fea" x="624" y="997">49</text></g>
<g id="r48"><rect class="fea" x="660" y="1054" width="8" height="8"/><text class="n fea" x="683" y="1063">48</text></g>
<g id="r51"><circle class="fea" cx="234" cy="1110" r="4.5"/><text class="n fea" x="233" y="1131">51</text></g>
<g id="r52"><rect class="fea" x="322" y="1119" width="8" height="8"/><text class="n fea" x="325" y="1145">52</text></g>
<g id="r50"><circle class="fea" cx="265" cy="1153" r="4.5"/><text class="n fea" x="264" y="1175">50</text></g>
<g id="r46"><circle class="fea" cx="421" cy="1127" r="4.5"/><text class="n fea" x="440" y="1148">46</text></g>
<g id="r54"><circle class="fea" cx="620" cy="1108" r="4.5"/><text class="n fea" x="598" y="1113">54</text></g>
<g id="r47"><circle class="fea" cx="708" cy="1131" r="4.5"/><text class="n fea" x="688" y="1136">47</text></g>
<g id="r60"><rect class="fea" x="725" y="1127" width="8" height="8"/><text class="n fea" x="748" y="1153">60</text></g>
<g id="r62"><circle class="fea" cx="839" cy="1055" r="4.5"/><text class="n fea" x="858" y="1075">62</text></g>
<g id="r64"><circle class="fur" cx="811" cy="966" r="4.5"/><text class="n fur" x="791" y="988">64</text></g>
<g id="r65"><circle class="fur" cx="722" cy="993" r="4.5"/><text class="n fur" x="741" y="1015">65</text></g>
<g id="r66"><circle class="fur" cx="750" cy="1081" r="4.5"/><text class="n fur" x="750" y="1069">66</text></g>
</g>
<g id="region-labels">
<g id="lab-ext1" class="lb ftr"><text x="333" y="42">Extracellular</text><text x="333" y="61">transport</text></g>
<g id="lab-ext2" class="lb ftr"><text x="163" y="850">Extracellular</text><text x="163" y="869">transport</text></g>
<g id="lab-bio" class="lb fbm"><text x="181" y="129">Biomass</text><text x="181" y="148">synthesis</text></g>
<g id="lab-tc" class="lb ftc"><text x="337" y="129">Total</text><text x="337" y="148">carbohydrates</text></g>
<g id="lab-gly" class="lb cgl"><text x="355" y="198">Glycolysis</text></g>
<g id="lab-ppp" class="lb fpp"><text x="585" y="68">Pentose phosphate</text><text x="585" y="88">pathway</text></g>
<g id="lab-nuc" class="lb" fill="#ffc244"><text x="979" y="190">Nucleotide</text><text x="979" y="209">synthesis</text></g>
<g id="lab-prot" class="lb fps"><text x="315" y="238">Protein</text><text x="315" y="257">synthesis</text></g>
<g id="lab-mab" class="lb cma"><text x="150" y="298">mAb</text><text x="150" y="317">synthesis</text></g>
<g id="lab-lip" class="lb fli"><text x="624" y="442">Lipid</text><text x="624" y="461">synthesis</text></g>
<g id="lab-ana" class="lb fan"><text x="341" y="516">Anaplerotic</text><text x="341" y="535">reactions</text></g>
<g id="lab-mito" class="lb fmt"><text x="637" y="581">Mitochondrial</text><text x="637" y="600">transport</text></g>
<g id="lab-tca" class="lb ftca"><text x="451" y="862">TCA-cycle</text></g>
<g id="lab-ne" class="lb fne"><text x="962" y="958">Non-essential</text><text x="962" y="977">amino acid</text><text x="962" y="996">metabolism</text></g>
<g id="lab-urea" class="lb fur"><text x="780" y="1010">Urea</text><text x="780" y="1029">cycle</text></g>
<g id="lab-ea" class="lb fea"><text x="316" y="1197">Essential amino acid</text><text x="316" y="1216">metabolism</text></g>
</g>
<g id="metabolites">
<g id="Glc_ext"><text class="t" x="415" y="25">Glc<tspan class="s" dy="5">ext</tspan></text></g>
<g id="G6P"><text class="t" x="415" y="107">G6P</text></g>
<g id="F6P"><text class="t" x="415" y="197">F6P</text></g>
<g id="DHAP"><text class="t" x="348" y="291">DHAP</text></g>
<g id="GA3P"><text class="t" x="479" y="291">GA3P</text></g>
<g id="Glyc3P"><text class="t" x="348" y="370">Glyc3P</text></g>
<g id="3PG"><text class="t" x="480" y="388">3PG</text></g>
<g id="PEP"><text class="t" x="480" y="477">PEP</text></g>
<g id="Pyr"><text class="t" x="480" y="559">Pyr</text></g>
<g id="Biomass_ext"><text class="t" x="52" y="106">Biomass<tspan class="s" dy="5">ext</tspan></text></g>
<g id="TC"><text class="t" x="288" y="107">TC</text></g>
<g id="RNA_b"><text class="t" x="231" y="73">RNA</text></g>
<g id="DNA_b"><text class="t" x="276" y="72">DNA</text></g>
<g id="Lipids_b"><text class="t" x="266" y="133">Lipids</text></g>
<g id="Proteins"><text class="t" x="250" y="194">Proteins</text></g>
<g id="CO2_9"><text class="t" x="505" y="83">CO<tspan class="s" dy="5">2</tspan></text></g>
<g id="RI5P"><text class="t" x="532" y="107">RI5P</text></g>
<g id="R5P"><text class="t" x="632" y="107">R5P</text></g>
<g id="X5P"><text class="t" x="515" y="189">X5P</text></g>
<g id="E4P"><text class="t" x="549" y="208">E4P</text></g>
<g id="F6P_2"><text class="t" x="583" y="245">F6P</text></g>
<g id="PRPP"><text class="t" x="739" y="107">PRPP</text></g>
<g id="Asp68"><text class="t" x="760" y="64">Asp</text></g>
<g id="CO2_68"><text class="t" x="735" y="83">CO<tspan class="s" dy="5">2</tspan></text></g>
<g id="Gly68"><text class="t" x="797" y="75">Gly</text></g>
<g id="Gln68"><text class="t" x="838" y="68">Gln</text></g>
<g id="Fum68"><text class="t" x="866" y="85">Fum</text></g>
<g id="Glu68"><text class="t" x="876" y="103">Glu</text></g>
<g id="IMP"><text class="t" x="850" y="150">IMP</text></g>
<g id="Asp69"><text class="t" x="795" y="159">Asp</text></g>
<g id="CO2_72"><text class="t" x="782" y="190">CO<tspan class="s" dy="5">2</tspan></text></g>
<g id="Fum69"><text class="t" x="792" y="210">Fum</text></g>
<g id="Gln70"><text class="t" x="880" y="168">Gln</text></g>
<g id="Glu70"><text class="t" x="863" y="251">Glu</text></g>
<g id="GTPrn"><text class="t" x="928" y="251">GTPrn</text></g>
<g id="CO2_71"><text class="t" x="635" y="148">CO<tspan class="s" dy="5">2</tspan></text></g>
<g id="NH4_71"><text class="t" x="686" y="150">NH<tspan class="s" dy="5">4</tspan></text></g>
<g id="Orot"><text class="t" x="686" y="191">Orot</text></g>
<g id="Asp71"><text class="t" x="638" y="224">Asp</text></g>
<g id="Gln73"><text class="t" x="738" y="217">Gln</text></g>
<g id="Glu73"><text class="t" x="770" y="227">Glu</text></g>
<g id="UTPrn"><text class="t" x="658" y="260">UTPrn</text></g>
<g id="CTPrn"><text class="t" x="775" y="260">CTPrn</text></g>
<g id="ATPrn"><text class="t" x="825" y="260">ATPrn</text></g>
<g id="RNA"><text class="t" x="748" y="334">RNA</text></g>
<g id="dGTP"><text class="t" x="928" y="294">dGTP</text></g>
<g id="dATP"><text class="t" x="928" y="311">dATP</text></g>
<g id="dCTP"><text class="t" x="928" y="334">dCTP</text></g>
<g id="dTTP"><text class="t" x="928" y="360">dTTP</text></g>
<g id="DNA"><text class="t" x="998" y="362">DNA</text></g>
<g id="Glu39"><text class="t" x="511" y="372">Glu</text></g>
<g id="aKG39"><text class="t" x="566" y="354">aKG</text></g>
<g id="Ser"><text class="t" x="573" y="388">Ser</text></g>
<g id="Gly"><text class="t" x="657" y="388">Gly</text></g>
<g id="CO2_42"><text class="t" x="618" y="323">CO<tspan class="s" dy="5">2</tspan></text></g>
<g id="NH4_42"><text class="t" x="656" y="307">NH<tspan class="s" dy="5">4</tspan></text></g>
<g id="NH4_40"><text class="t" x="577" y="515">NH<tspan class="s" dy="5">4</tspan></text></g>
<g id="PhosphS"><text class="sm" x="716" y="429">PhosphS</text></g>
<g id="PhosphE"><text class="sm" x="735" y="459">PhosphE</text></g>
<g id="PhosphC"><text class="sm" x="817" y="459">PhosphC</text></g>
<g id="Sphm"><text class="sm" x="886" y="464">Sphm</text></g>
<g id="Cholesterol"><text class="sm" x="977" y="433">Cholesterol</text></g>
<g id="Lipids"><text class="t" x="898" y="420">Lipids</text></g>
<g id="Glyc3P_2"><text class="t" x="758" y="483">Glyc3P</text></g>
<g id="Cho"><text class="t" x="878" y="490">Cho</text></g>
<g id="CO2_84"><text class="t" x="978" y="470">CO<tspan class="s" dy="5">2</tspan></text></g>
<g id="Ser84"><text class="t" x="976" y="493">Ser</text></g>
<g id="Ethn"><text class="t" x="642" y="515">Ethn</text></g>
<g id="AcCoA"><text class="t" x="783" y="543">AcCoA</text></g>
<g id="CO2_85"><text class="t" x="965" y="556">CO<tspan class="s" dy="5">2</tspan></text></g>
<g id="Gly_ext"><text class="t" x="1108" y="388">Gly<tspan class="s" dy="5">ext</tspan></text></g>
<g id="Ser_ext"><text class="t" x="1112" y="411">Ser<tspan class="s" dy="5">ext</tspan></text></g>
<g id="Cho_ext"><text class="t" x="1092" y="513">Cho<tspan class="s" dy="5">ext</tspan></text></g>
<g id="Ethn_ext"><text class="t" x="1095" y="539">Ethn<tspan class="s" dy="5">ext</tspan></text></g>
<g id="Lac_ext"><text class="t" x="1090" y="593">Lac<tspan class="s" dy="5">ext</tspan></text></g>
<g id="CO2_102"><text class="t" x="991" y="631">CO<tspan class="s" dy="5">2</tspan></text></g>
<g id="CO2_ext"><text class="t" x="1099" y="631">CO<tspan class="s" dy="5">2,ext</tspan></text></g>
<g id="Asp_ext"><text class="t" x="1097" y="670">Asp<tspan class="s" dy="5">ext</tspan></text></g>
<g id="Asn_ext"><text class="t" x="1097" y="701">Asn<tspan class="s" dy="5">ext</tspan></text></g>
<g id="NH4_125"><text class="t" x="987" y="742">NH<tspan class="s" dy="5">4</tspan></text></g>
<g id="NH4_ext"><text class="t" x="1103" y="742">NH<tspan class="s" dy="5">4,ext</tspan></text></g>
<g id="Gln_ext"><text class="t" x="1093" y="780">Gln<tspan class="s" dy="5">ext</tspan></text></g>
<g id="Glu_ext"><text class="t" x="1108" y="826">Glu<tspan class="s" dy="5">ext</tspan></text></g>
<g id="His_ext"><text class="t" x="1105" y="870">His<tspan class="s" dy="5">ext</tspan></text></g>
<g id="Ala_ext"><text class="t" x="1095" y="912">Ala<tspan class="s" dy="5">ext</tspan></text></g>
<g id="Pro_ext"><text class="t" x="1085" y="933">Pro<tspan class="s" dy="5">ext</tspan></text></g>
<g id="Urea_ext"><text class="t" x="1122" y="1033">Urea<tspan class="s" dy="5">ext</tspan></text></g>
<g id="Oxa"><text class="t" x="838" y="648">Oxa</text></g>
<g id="CO2_23"><text class="t" x="805" y="655">CO<tspan class="s" dy="5">2</tspan></text></g>
<g id="Cit"><text class="t" x="762" y="655">Cit</text></g>
<g id="CO2_100"><text class="t" x="745" y="632">CO<tspan class="s" dy="5">2</tspan></text></g>
<g id="Mal"><text class="t" x="731" y="714">Mal</text></g>
<g id="aKG"><text class="t" x="762" y="781">aKG</text></g>
<g id="Ala"><text class="t" x="764" y="815">Ala</text></g>
<g id="Glu96"><text class="t" x="764" y="887">Glu</text></g>
<g id="Asp98"><text class="t" x="760" y="915">Asp</text></g>
<g id="Asp"><text class="t" x="909" y="650">Asp</text></g>
<g id="NH4_34"><text class="t" x="916" y="696">NH<tspan class="s" dy="5">4</tspan></text></g>
<g id="Asn"><text class="t" x="990" y="702">Asn</text></g>
<g id="NH4_37"><text class="t" x="851" y="736">NH<tspan class="s" dy="5">4</tspan></text></g>
<g id="NH4_36"><text class="t" x="908" y="753">NH<tspan class="s" dy="5">4</tspan></text></g>
<g id="Gln"><text class="t" x="970" y="781">Gln</text></g>
<g id="Glu"><text class="t" x="896" y="802">Glu</text></g>
<g id="Pyr30"><text class="t" x="858" y="834">Pyr</text></g>
<g id="NH4_63"><text class="t" x="912" y="842">NH<tspan class="s" dy="5">4</tspan></text></g>
<g id="His"><text class="t" x="988" y="872">His</text></g>
<g id="Gluysa"><text class="t" x="873" y="934">Gluysa</text></g>
<g id="Pro"><text class="t" x="985" y="934">Pro</text></g>
<g id="aKG43"><text class="t" x="852" y="968">aKG</text></g>
<g id="Orn"><text class="t" x="843" y="1009">Orn</text></g>
<g id="Glu43"><text class="t" x="914" y="1016">Glu</text></g>
<g id="Urea"><text class="t" x="882" y="1032">Urea</text></g>
<g id="CO2m_64"><text class="t" x="797" y="930">CO<tspan class="s" dy="5">2,m</tspan></text></g>
<g id="NH4m_64"><text class="t" x="840" y="942">NH<tspan class="s" dy="5">4,m</tspan></text></g>
<g id="Cln"><text class="t" x="762" y="968">Cln</text></g>
<g id="Asp65"><text class="t" x="695" y="990">Asp</text></g>
<g id="Argsucc"><text class="t" x="718" y="1049">Argsucc</text></g>
<g id="Fum66"><text class="t" x="788" y="1070">Fum</text></g>
<g id="Arg"><text class="t" x="809" y="1092">Arg</text></g>
<g id="mAb_ext"><text class="t" x="38" y="413">mAb<tspan class="s" dy="5">ext</tspan></text></g>
<g id="Cys_ext"><text class="t" x="39" y="578">Cys<tspan class="s" dy="5">ext</tspan></text></g>
<g id="Leu_ext"><text class="t" x="38" y="988">Leu<tspan class="s" dy="5">ext</tspan></text></g>
<g id="Phe_ext"><text class="t" x="40" y="1043">Phe<tspan class="s" dy="5">ext</tspan></text></g>
<g id="Tyr_ext"><text class="t" x="39" y="1076">Tyr<tspan class="s" dy="5">ext</tspan></text></g>
<g id="Lys_ext"><text class="t" x="39" y="1134">Lys<tspan class="s" dy="5">ext</tspan></text></g>
<g id="Trp_ext"><text class="t" x="38" y="1174">Trp<tspan class="s" dy="5">ext</tspan></text></g>
<g id="Cys"><text class="t" x="304" y="559">Cys</text></g>
<g id="NH4_61"><text class="t" x="412" y="539">NH<tspan class="s" dy="5">4</tspan></text></g>
<g id="Oxa_c"><text class="t" x="204" y="704">Oxa</text></g>
<g id="CO2_29"><text class="t" x="240" y="702">CO<tspan class="s" dy="5">2</tspan></text></g>
<g id="CO2_28"><text class="t" x="421" y="440">CO<tspan class="s" dy="5">2</tspan></text></g>
<g id="Mal_c"><text class="t" x="276" y="813">Mal</text></g>
<g id="Fum_c"><text class="t" x="274" y="863">Fum</text></g>
<g id="NH4_99"><text class="t" x="284" y="886">NH<tspan class="s" dy="5">4</tspan></text></g>
<g id="Leu"><text class="t" x="156" y="990">Leu</text></g>
<g id="aKG56"><text class="t" x="150" y="974">aKG</text></g>
<g id="Glu56"><text class="t" x="290" y="974">Glu</text></g>
<g id="Acetoac"><text class="t" x="378" y="1032">Acetoac</text></g>
<g id="Phe"><text class="t" x="150" y="1045">Phe</text></g>
<g id="Tyr"><text class="t" x="243" y="1045">Tyr</text></g>
<g id="Fum59"><text class="t" x="293" y="1009">Fum</text></g>
<g id="CO2_59"><text class="t" x="327" y="1020">CO<tspan class="s" dy="5">2</tspan></text></g>
<g id="Glu59"><text class="t" x="346" y="1058">Glu</text></g>
<g id="Glu51"><text class="t" x="242" y="1067">Glu</text></g>
<g id="aKG59"><text class="t" x="267" y="1078">aKG</text></g>
<g id="AcetoacCoA"><text class="t" x="347" y="1088">AcetoacCoA</text></g>
<g id="Gly46"><text class="t" x="398" y="1104">Gly</text></g>
<g id="CO2_52"><text class="t" x="374" y="1115">CO<tspan class="s" dy="5">2</tspan></text></g>
<g id="aKG51"><text class="t" x="193" y="1105">aKG</text></g>
<g id="aKad"><text class="t" x="278" y="1119">aKad</text></g>
<g id="Lys"><text class="t" x="191" y="1134">Lys</text></g>
<g id="CO2_50"><text class="t" x="318" y="1165">CO<tspan class="s" dy="5">2</tspan></text></g>
<g id="Ala50"><text class="t" x="295" y="1180">Ala</text></g>
<g id="Trp"><text class="t" x="213" y="1177">Trp</text></g>
<g id="Thr"><text class="t" x="419" y="1181">Thr</text></g>
<g id="Ile"><text class="t" x="517" y="1181">Ile</text></g>
<g id="Val"><text class="t" x="619" y="1181">Val</text></g>
<g id="Met"><text class="t" x="738" y="1181">Met</text></g>
<g id="Ser60"><text class="t" x="706" y="1191">Ser</text></g>
<g id="Thr47"><text class="t" x="669" y="1170">Thr</text></g>
<g id="aKG54"><text class="t" x="588" y="1168">aKG</text></g>
<g id="Glu55"><text class="t" x="558" y="1041">Glu</text></g>
<g id="PropCoA"><text class="t" x="605" y="1032">PropCoA</text></g>
<g id="aKG55"><text class="t" x="485" y="1093">aKG</text></g>
<g id="CO2_55"><text class="t" x="540" y="1126">CO<tspan class="s" dy="5">2</tspan></text></g>
<g id="CO2_49"><text class="t" x="653" y="1000">CO<tspan class="s" dy="5">2</tspan></text></g>
<g id="Glu54"><text class="t" x="594" y="1075">Glu</text></g>
<g id="CO2_54"><text class="t" x="665" y="1087">CO<tspan class="s" dy="5">2</tspan></text></g>
<g id="NH4_54"><text class="t" x="668" y="1109">NH<tspan class="s" dy="5">4</tspan></text></g>
<g id="CO2_48"><text class="t" x="697" y="1026">CO<tspan class="s" dy="5">2</tspan></text></g>
<g id="aKbut"><text class="t" x="709" y="1092">a Kbut</text></g>
<g id="NH4_60"><text class="t" x="752" y="1104">NH<tspan class="s" dy="5">4</tspan></text></g>
<g id="Cys60"><text class="t" x="786" y="1123">Cys</text></g>
<g id="Thr_ext"><text class="t" x="420" y="1260">Thr<tspan class="s" dy="5">ext</tspan></text></g>
<g id="Ile_ext"><text class="t" x="517" y="1260">Ile<tspan class="s" dy="5">ext</tspan></text></g>
<g id="Val_ext"><text class="t" x="619" y="1260">Val<tspan class="s" dy="5">ext</tspan></text></g>
<g id="Met_ext"><text class="t" x="737" y="1260">Met<tspan class="s" dy="5">ext</tspan></text></g>
<g id="Arg_ext"><text class="t" x="809" y="1260">Arg<tspan class="s" dy="5">ext</tspan></text></g>
</g>
<g id="mito-metabolites">
<g id="Pyr_m"><text class="r" x="480" y="618">Pyr<tspan class="s" dy="5">m</tspan></text></g>
<g id="CO2m_14"><text class="r" x="537" y="645">CO<tspan class="s" dy="5">2,m</tspan></text></g>
<g id="AcCoA_m"><text class="r" x="480" y="673">AcCoA<tspan class="s" dy="5">m</tspan></text></g>
<g id="Cit_m"><text class="r" x="534" y="701">Cit<tspan class="s" dy="5">m</tspan></text></g>
<g id="CO2m_100"><text class="r" x="650" y="632">CO<tspan class="s" dy="5">2,m</tspan></text></g>
<g id="Mal_m97"><text class="r" x="640" y="720">Mal<tspan class="s" dy="5">m</tspan></text></g>
<g id="aKG_m"><text class="r" x="616" y="778">aKG<tspan class="s" dy="5">m</tspan></text></g>
<g id="Ala_m"><text class="r" x="675" y="791">Ala<tspan class="s" dy="5">m</tspan></text></g>
<g id="CO2m_16"><text class="r" x="528" y="742">CO<tspan class="s" dy="5">2,m</tspan></text></g>
<g id="Asp_m"><text class="r" x="478" y="730">Asp<tspan class="s" dy="5">m</tspan></text></g>
<g id="Oxa_m"><text class="r" x="424" y="725">Oxa<tspan class="s" dy="5">m</tspan></text></g>
<g id="CO2m_26"><text class="r" x="393" y="698">CO<tspan class="s" dy="5">2,m</tspan></text></g>
<g id="CO2m_27"><text class="r" x="421" y="638">CO<tspan class="s" dy="5">2,m</tspan></text></g>
<g id="Glu_m"><text class="r" x="480" y="801">Glu<tspan class="s" dy="5">m</tspan></text></g>
<g id="NH4m_38"><text class="r" x="519" y="842">NH4<tspan class="s" dy="5">m</tspan></text></g>
<g id="CO2m_17"><text class="r" x="561" y="830">CO<tspan class="s" dy="5">2,m</tspan></text></g>
<g id="Pyr_m31"><text class="r" x="643" y="856">Pyr<tspan class="s" dy="5">m</tspan></text></g>
<g id="Glu_m96"><text class="r" x="668" y="884">Glu<tspan class="s" dy="5">m</tspan></text></g>
<g id="Asp_m98"><text class="r" x="674" y="921">Asp<tspan class="s" dy="5">m</tspan></text></g>
<g id="SucCoA_m"><text class="r" x="600" y="885">SucCoA<tspan class="s" dy="5">m</tspan></text></g>
<g id="Suc_m"><text class="r" x="511" y="946">Suc<tspan class="s" dy="5">m</tspan></text></g>
<g id="AcCoA_m2"><text class="r" x="518" y="966">AcCoA<tspan class="s" dy="5">m</tspan></text></g>
<g id="Fum_m"><text class="r" x="412" y="913">Fum<tspan class="s" dy="5">m</tspan></text></g>
<g id="NH4m_99"><text class="r" x="374" y="887">NH<tspan class="s" dy="5">4,m</tspan></text></g>
<g id="Mal_m"><text class="r" x="367" y="810">Mal<tspan class="s" dy="5">m</tspan></text></g>
</g>
<g id="amino-acids">
<g id="aa_Ala"><text class="aa" x="228" y="236">Ala</text></g>
<g id="aa_Asn"><text class="aa" x="229" y="254">Asn</text></g>
<g id="aa_Asp"><text class="aa" x="229" y="276">Asp</text></g>
<g id="aa_Arg"><text class="aa" x="228" y="292">Arg</text></g>
<g id="aa_Cys"><text class="aa" x="228" y="310">Cys</text></g>
<g id="aa_Gln"><text class="aa" x="228" y="328">Gln</text></g>
<g id="aa_Glu"><text class="aa" x="228" y="345">Glu</text></g>
<g id="aa_Gly"><text class="aa" x="228" y="361">Gly</text></g>
<g id="aa_His"><text class="aa" x="228" y="377">His</text></g>
<g id="aa_Ile"><text class="aa" x="228" y="395">Ile</text></g>
<g id="aa_Leu"><text class="aa" x="228" y="412">Leu</text></g>
<g id="aa_Lys"><text class="aa" x="228" y="430">Lys</text></g>
<g id="aa_Met"><text class="aa" x="228" y="447">Met</text></g>
<g id="aa_Phe"><text class="aa" x="228" y="464">Phe</text></g>
<g id="aa_Pro"><text class="aa" x="228" y="486">Pro</text></g>
<g id="aa_Ser"><text class="aa" x="228" y="503">Ser</text></g>
<g id="aa_Thr"><text class="aa" x="228" y="521">Thr</text></g>
<g id="aa_Trp"><text class="aa" x="228" y="538">Trp</text></g>
<g id="aa_Tyr"><text class="aa" x="228" y="556">Tyr</text></g>
</g>
</svg>
